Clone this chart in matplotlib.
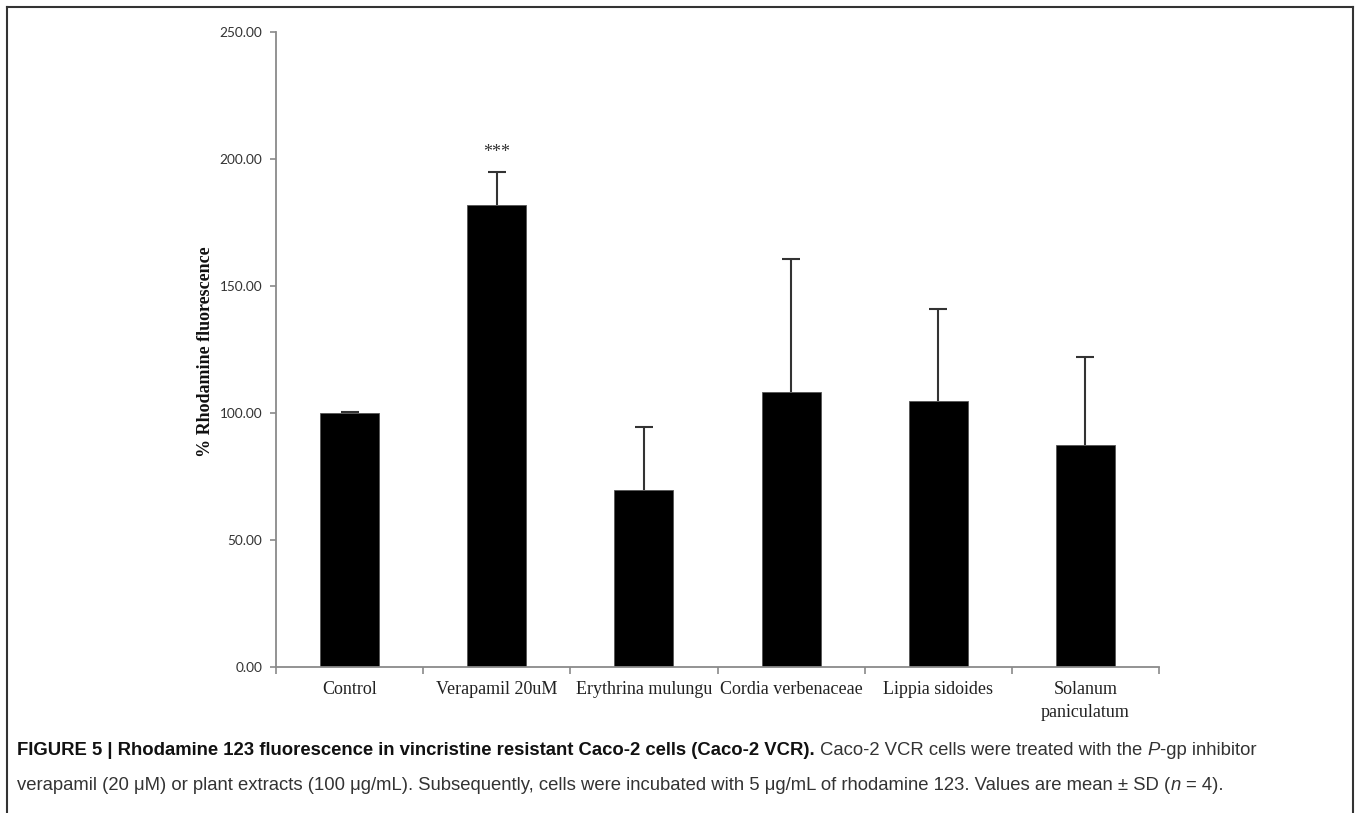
import matplotlib
matplotlib.use('Agg')
import matplotlib.pyplot as plt
import numpy as np
from matplotlib.lines import Line2D
from matplotlib.ticker import FixedLocator, FormatStrFormatter

# ---------------- data ----------------
categories = ["Control", "Verapamil 20uM", "Erythrina mulungu",
              "Cordia verbenaceae", "Lippia sidoides", "Solanum\npaniculatum"]
means = [100.0, 181.8, 69.7, 108.1, 104.6, 87.5]
sd_upper = [0.5, 13.2, 24.9, 52.5, 36.5, 34.4]
significance = ["", "***", "", "", "", ""]
yticks = [0, 50, 100, 150, 200, 250]
ylabel = "% Rhodamine fluorescence"

W, H = 1357, 813
fig = plt.figure(figsize=(W / 100, H / 100), dpi=100)
fig.patch.set_facecolor('white')

ax = fig.add_axes([276 / W, 146 / H, (1159 - 276) / W, (667 - 32) / H])
x = np.arange(len(categories))
ax.bar(x, means, width=0.4, color='black', edgecolor='#555555', linewidth=0.6, zorder=2)
eb = ax.errorbar(x, means, yerr=[np.zeros(len(means)), sd_upper], fmt='none',
                 ecolor='#333333', elinewidth=1.5, capsize=6.5, capthick=1.5, zorder=3)
eb[1][0].set_visible(False)  # hide lower caps (bars only show upper SD)

for xi, m, s, sig in zip(x, means, sd_upper, significance):
    if sig:
        ax.text(xi, m + s + 7.5, sig, ha='center', va='center',
                family='Liberation Serif', fontsize=13, color='#333333')

ax.set_xlim(-0.5, len(categories) - 0.5)
ax.set_ylim(0, 250)
ax.set_yticks(yticks)
ax.yaxis.set_major_formatter(FormatStrFormatter('%.2f'))
ax.tick_params(axis='y', direction='out', length=4, width=1.2, color='#8a8a8a',
               pad=6, labelsize=9.8, labelcolor='#333333')
for lab in ax.get_yticklabels():
    lab.set_family('Lato')

ax.set_xticks(x)
ax.set_xticklabels(categories, family='Liberation Serif', fontsize=13,
                   color='#222222', linespacing=1.45)
ax.tick_params(axis='x', length=0, pad=10)
ax.xaxis.set_minor_locator(FixedLocator(np.arange(-0.5, len(categories), 1.0)))
ax.tick_params(axis='x', which='minor', direction='out', length=5, width=1.2,
               color='#8a8a8a')

for sp in ['top', 'right']:
    ax.spines[sp].set_visible(False)
for sp in ['left', 'bottom']:
    ax.spines[sp].set_color('#8a8a8a')
    ax.spines[sp].set_linewidth(1.3)

fig.text(205 / W, 1 - 352 / H, ylabel, rotation=90, ha='center', va='center',
         family='Liberation Serif', fontweight='bold', fontsize=13, color='#111111')

# ---------------- frame ----------------
fc = '#333333'
fig.add_artist(Line2D([7 / W, 7 / W], [-0.01, 1 - 7 / H], transform=fig.transFigure, color=fc, lw=1.5))
fig.add_artist(Line2D([7 / W, 1353 / W], [1 - 7 / H, 1 - 7 / H], transform=fig.transFigure, color=fc, lw=1.5))
fig.add_artist(Line2D([1353 / W, 1353 / W], [-0.01, 1 - 7 / H], transform=fig.transFigure, color=fc, lw=1.5))

# ---------------- caption ----------------
line1 = [("FIGURE 5 | Rhodamine 123 fluorescence in vincristine resistant Caco-2 cells (Caco-2 VCR).", 'bold', 'normal', True),
         ("Caco-2 VCR cells were treated with the", 'normal', 'normal', True),
         ("P", 'normal', 'italic', False),
         ("-gp inhibitor", 'normal', 'normal', False)]
line2 = [("verapamil (20 \u03bcM) or plant extracts (100 \u03bcg/mL). Subsequently, cells were incubated with 5 \u03bcg/mL of rhodamine 123. Values are mean \u00b1 SD (", 'normal', 'normal', False),
         ("n", 'normal', 'italic', False),
         (" = 4).", 'normal', 'normal', False)]

renderer = fig.canvas.get_renderer()
cap_family = 'Liberation Sans'


def measure(s, size, weight='normal', style='normal'):
    t = fig.text(0, 0, s, fontsize=size, family=cap_family, fontweight=weight, fontstyle=style)
    w = t.get_window_extent(renderer).width
    t.remove()
    return w


def space_w(size):
    return measure("a a", size) - measure("aa", size)


def line_width(segs, size):
    tot = 0
    for s, wgt, sty, gap in segs:
        tot += measure(s.strip(), size, wgt, sty)
        if s.startswith(' '):
            tot += space_w(size)
        if gap:
            tot += space_w(size)
    return tot


x0 = 17
target = 1262 - x0
size = 11.0
w1 = line_width(line1, size)
size = size * target / w1


def draw_line(segs, y, size):
    xp = x0
    sp = space_w(size)
    for s, wgt, sty, gap in segs:
        if s.startswith(' '):
            xp += sp
        col = '#111111' if wgt == 'bold' else '#333333'
        t = fig.text(xp / W, 1 - y / H, s.strip(), fontsize=size, family=cap_family,
                     fontweight=wgt, fontstyle=sty, color=col, va='baseline', ha='left')
        xp += t.get_window_extent(renderer).width
        if gap:
            xp += sp


draw_line(line1, 755, size)
draw_line(line2, 790, size)

fig.savefig('out.png', dpi=100, facecolor='white')
